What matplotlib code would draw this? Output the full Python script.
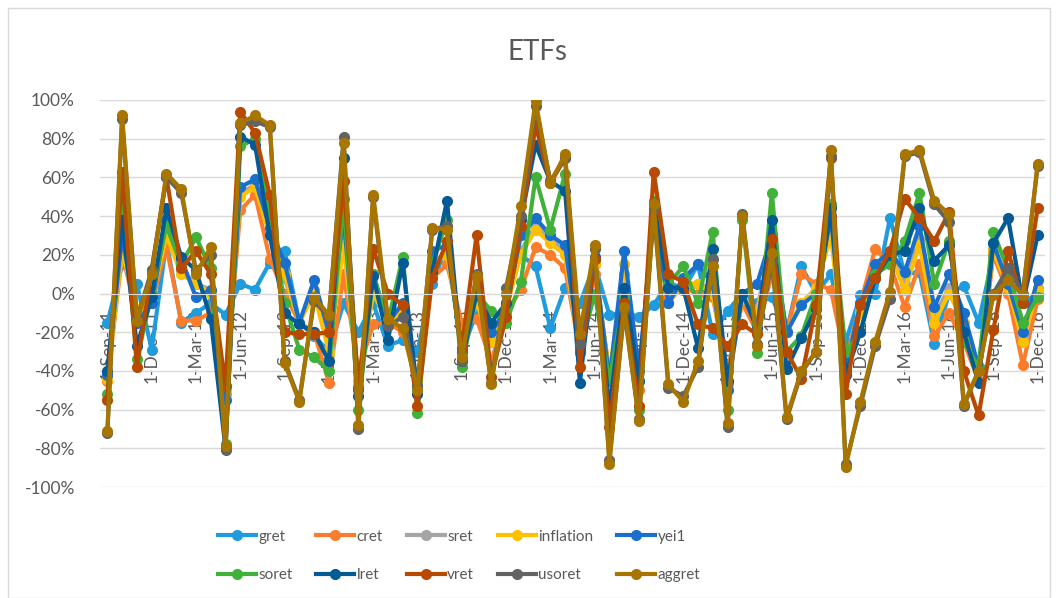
import matplotlib
matplotlib.use('Agg')
import matplotlib.pyplot as plt
import numpy as np
import pandas as pd
from matplotlib.patches import Rectangle
from matplotlib.ticker import FuncFormatter

# monthly categories, Sep-2011 .. Dec-2016
months = pd.date_range('2011-09-01', periods=64, freq='MS')
categories = [f"{d.day}-{d.strftime('%b-%y')}" for d in months]

gret = [-15, 15, 5, -29, 27, -15, -10, -5, -11, 5, 2, 16, 22, -15, -22, -30, -5, -20, -5, -27,
        -24, -30, 5, 25, -30, -10, -25, -5, 20, 14, -18, 3, -5, 15, -11, -10, -12, -6, 6, 2,
        15, -21, -9, 0, -5, -2, -20, 14, 0, 10, -25, -1, 0, 39, 10, 11, -26, 0, 4, -15,
        20, 3, -5, 0]
cret = [-45, 20, -10, -5, 24, -14, -14, -10, -48, 43, 51, 18, 0, -15, -20, -46, 10, -40, -16, -15,
        -20, -45, 8, 15, -15, -13, -35, -10, 2, 24, 20, 13, -30, 10, -40, -5, -50, 40, -2, 3,
        0, -2, -40, -5, -20, 10, -20, 10, 5, 2, -35, -5, 23, 15, -7, 15, -22, -10, -25, -45,
        20, 0, -37, -3]
sret = [-43, 25, -12, -2, 32, 12, 5, 2, -52, 52, 56, 32, 8, -15, 2, -28, 30, -48, 3, -15,
        -8, -47, 15, 22, -28, -3, -22, -8, 22, 35, 28, 22, -30, 15, -43, 10, -45, 40, -5, 5,
        5, 2, -47, -2, -8, 27, -20, -5, 2, 35, -38, -8, 15, 20, 5, 28, -12, 3, -15, -40,
        23, 5, -22, 3]
inflation = [-44, 22, -8, -3, 30, 10, 5, 0, -50, 50, 55, 30, 10, -15, 0, -30, 25, -45, 0, -15,
             -10, -45, 15, 20, -25, -5, -25, -8, 20, 33, 26, 20, -30, 15, -42, 15, -45, 38, -5, 5,
             5, 0, -45, -3, -10, 25, -20, -5, 3, 30, -38, -10, 15, 20, 2, 25, -15, 0, -15, -40,
             22, 3, -25, 2]
yei1 = [-42, 30, -15, -5, 38, 18, -2, 2, -55, 55, 59, 34, 16, -15, 7, -20, 40, -50, 10, -15,
        -5, -48, 22, 25, -30, 0, -20, -8, 30, 39, 30, 25, -30, 18, -45, 22, -40, 40, -5, 8,
        15, 5, -50, 0, 5, 30, -20, -6, 0, 40, -40, -5, 15, 22, 11, 35, -7, 10, -10, -38,
        26, 5, -20, 7]
soret = [-52, 50, -34, 0, 35, 15, 29, 13, -78, 76, 80, 40, -5, -29, -33, -40, 49, -60, 10, -15,
         19, -62, 15, 38, -38, 0, -9, -15, 6, 60, 33, 62, -30, 0, -45, -2, -60, 48, 5, 14,
         -5, 32, -60, 38, -31, 52, -30, -22, 0, 46, -30, -20, 10, 15, 27, 52, 5, 27, -25, -38,
         32, 12, -15, -2]
lret = [-40, 38, -27, -2, 44, 19, 12, -13, -80, 81, 77, 30, -10, -16, -20, -35, 70, -53, 9, -24,
        16, -52, 11, 48, -35, 0, -15, -5, 38, 77, 58, 53, -46, 19, -60, 3, -45, 46, 3, 3,
        -28, 23, -45, 0, -18, 38, -39, -23, -8, 44, -42, -20, 8, 20, 22, 44, 17, 25, -20, -46,
        26, 39, -5, 30]
vret = [-55, 63, -38, 12, 60, 13, 22, 10, -48, 94, 83, 51, -20, -21, -21, -20, 58, -49, 23, 0,
        -6, -58, 8, 27, -28, 30, -43, -12, 35, 87, 57, 70, -38, 18, -69, -5, -58, 63, 10, 6,
        -16, -18, -27, -16, -21, 28, -30, -44, -6, 70, -52, -6, 8, 22, 49, 39, 27, 42, -40, -63,
        -19, 22, -5, 44]
usoret = [-72, 90, -13, 12, 60, 52, 12, 20, -81, 87, 89, 86, -35, -55, -4, -12, 81, -70, 50, -17,
          -12, -48, 33, 35, -35, 10, -46, 3, 40, 97, 58, 70, -26, 23, -86, -9, -65, 44, -49, -53,
          -38, 18, -69, 41, -26, 17, -65, -41, -30, 71, -88, -58, -27, -3, 71, 73, 46, 37, -58, -40,
          0, 13, 0, 66]
aggret = [-71, 92, -14, 10, 62, 54, 10, 24, -79, 88, 92, 87, -36, -56, -2, -11, 78, -68, 51, -13,
          -18, -50, 34, 33, -33, 9, -47, 0, 45, 99.5, 57, 72, -21, 25, -88, -7, -66, 46, -47, -56,
          -35, 14, -67, 40, -27, 21, -64, -40, -30, 74, -89.5, -56, -25, 1, 72, 74, 48, 41, -57, -40,
          -1, 7, -1, 67]

series_names = ['gret', 'cret', 'sret', 'inflation', 'yei1',
                'soret', 'lret', 'vret', 'usoret', 'aggret']
series_values = [gret, cret, sret, inflation, yei1, soret, lret, vret, usoret, aggret]
colors = ['#1f9bde', '#fb7d2b', '#a5a5a5', '#ffc000', '#1a6fcd',
          '#42b13a', '#045a95', '#b84900', '#636363', '#a87500']

plt.rcParams['font.family'] = ['Lato', 'DejaVu Sans']
TXT = '#595959'

fig = plt.figure(figsize=(10.58, 5.98), dpi=100)
ax = fig.add_axes([100 / 1058, 1 - 487 / 598, 945 / 1058, 387 / 598])

x = np.arange(len(categories))
handles = []
for name, vals, col in zip(series_names, series_values, colors):
    h, = ax.plot(x, np.array(vals) / 100, color=col, lw=3.0, marker='o', ms=7,
                 label=name, solid_joinstyle='round')
    handles.append(h)

ax.set_xlim(-0.5, len(categories) - 0.5)
ax.set_ylim(-1, 1)
ax.set_yticks(np.linspace(-1, 1, 11))
ax.yaxis.set_major_formatter(FuncFormatter(lambda v, p: f"{int(round(v * 100))}%"))
ax.grid(axis='y', color='#d9d9d9', lw=1)
ax.set_axisbelow(True)
for s in ['top', 'right', 'left']:
    ax.spines[s].set_visible(False)
ax.spines['bottom'].set_position(('data', 0))
ax.spines['bottom'].set_color('#d9d9d9')
ax.tick_params(axis='y', length=0, labelsize=12.5, labelcolor=TXT, pad=18)
ax.set_xticks(x[::3])
ax.set_xticklabels(categories[::3], rotation=90, fontsize=12.5, color=TXT)
ax.tick_params(axis='x', length=0, pad=11)

fig.text(537 / 1058, 1 - 52 / 598, 'ETFs', ha='center', va='center', fontsize=20, color=TXT)

# legend filled row-wise like Excel
order = [0, 5, 1, 6, 2, 7, 3, 8, 4, 9]
fig.legend([handles[i] for i in order], [series_names[i] for i in order],
           loc='center', bbox_to_anchor=(459 / 1058, 1 - 556 / 598), ncol=5,
           frameon=False, fontsize=11, handlelength=2.5, handletextpad=0.15,
           columnspacing=1.55, labelspacing=1.6, labelcolor=TXT)

fig.patches.append(Rectangle((8 / 1058, 0), 1042 / 1058, 1 - 8 / 598, transform=fig.transFigure,
                             fill=False, edgecolor='#d9d9d9', lw=1))

fig.savefig('out.png', dpi=100)
